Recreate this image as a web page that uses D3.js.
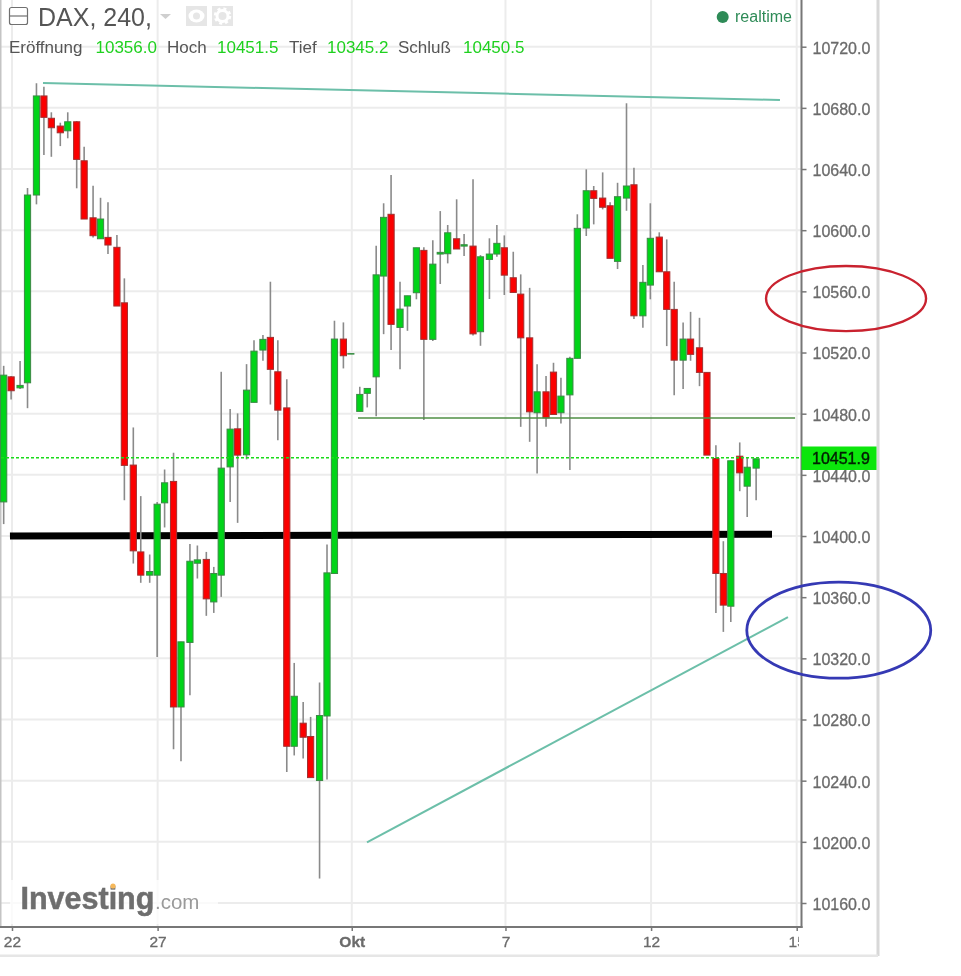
<!DOCTYPE html>
<html>
<head>
<meta charset="utf-8">
<script src="https://cdn.jsdelivr.net/npm/d3@7"></script>
<style>
html,body{margin:0;padding:0;background:#fff;}
svg{display:block;filter:blur(0.35px);}
text{font-family:"Liberation Sans",Arial,sans-serif;}
</style>
</head>
<body>
<svg id="chart" width="961" height="976"></svg>
<script>
const opens = [10422.3,10504.1,10496.9,10500.2,10623.0,10687.8,10673.2,10668.1,10665.0,10670.9,10645.4,10608.1,10594.4,10595.3,10588.8,10552.5,10446.4,10389.6,10374.4,10374.4,10421.7,10435.7,10288.2,10330.4,10382.2,10384.7,10356.9,10374.4,10445.2,10470.1,10453.1,10487.4,10521.6,10529.9,10507.4,10483.8,10262.5,10277.6,10268.9,10240.1,10282.3,10375.5,10528.8,10519.0,10481.5,10493.3,10504.1,10570.0,10610.4,10536.4,10550.4,10559.1,10586.8,10528.6,10584.4,10584.6,10594.4,10589.6,10589.6,10533.6,10580.9,10584.4,10588.5,10568.9,10558.2,10529.6,10480.6,10494.3,10507.2,10480.6,10492.3,10516.2,10601.4,10625.8,10621.0,10616.0,10579.6,10621.0,10629.7,10544.0,10564.1,10595.5,10572.8,10548.2,10515.0,10528.8,10523.1,10507.0,10450.7,10375.5,10354.1,10452.2,10432.6,10444.4];
const highs = [10511.3,10504.6,10514.4,10627.6,10696.1,10693.8,10677.1,10670.3,10677.1,10671.4,10654.6,10629.1,10621.2,10618.2,10596.8,10568.5,10471.0,10426.1,10387.9,10422.2,10443.5,10454.4,10330.8,10394.7,10393.8,10389.6,10379.8,10507.4,10483.0,10480.2,10512.4,10528.1,10531.4,10566.3,10528.1,10502.6,10317.0,10291.5,10281.7,10304.2,10394.5,10540.8,10539.7,10519.3,10497.6,10496.5,10589.8,10617.6,10636.1,10566.3,10557.1,10588.5,10588.8,10593.5,10612.5,10603.4,10620.2,10597.5,10633.3,10583.7,10594.7,10603.4,10596.6,10585.9,10571.1,10562.3,10512.4,10504.6,10513.3,10503.5,10517.2,10610.4,10639.8,10628.9,10637.8,10618.2,10631.0,10683.0,10640.8,10577.2,10617.6,10598.6,10594.0,10566.3,10539.7,10546.6,10542.7,10507.0,10459.4,10396.6,10449.6,10461.2,10451.6,10450.5];
const lows = [10407.8,10489.3,10496.1,10483.6,10616.9,10649.2,10648.0,10655.0,10660.1,10627.4,10607.3,10595.3,10594.4,10584.4,10550.4,10423.4,10382.0,10369.4,10369.4,10320.9,10405.6,10260.5,10252.7,10295.9,10372.2,10347.8,10349.7,10360.2,10422.3,10408.6,10450.1,10487.4,10514.6,10486.0,10462.7,10245.7,10256.5,10254.5,10242.0,10176.0,10240.7,10375.5,10509.6,10519.0,10481.5,10484.1,10478.4,10532.0,10521.6,10509.0,10534.2,10554.8,10475.8,10527.5,10564.8,10578.3,10587.7,10583.1,10531.2,10524.4,10555.0,10582.6,10557.6,10559.3,10471.4,10461.6,10440.9,10471.4,10479.5,10473.6,10443.1,10516.2,10596.2,10603.8,10613.6,10581.6,10574.6,10612.7,10541.9,10536.2,10554.8,10572.8,10524.2,10492.1,10496.1,10514.6,10498.0,10452.9,10349.7,10337.3,10343.8,10429.3,10412.5,10423.4];
const closes = [10505.2,10495.0,10498.5,10623.0,10687.8,10673.8,10667.0,10663.7,10670.9,10646.3,10607.3,10596.4,10607.3,10590.3,10550.4,10446.2,10390.3,10374.4,10376.8,10420.8,10434.8,10288.2,10330.8,10383.5,10384.4,10358.9,10375.5,10444.4,10469.9,10452.9,10495.4,10520.9,10528.6,10509.0,10482.3,10262.5,10295.2,10268.4,10242.0,10282.6,10375.9,10528.8,10517.9,10519.3,10492.6,10496.5,10570.8,10608.4,10538.4,10548.4,10557.1,10588.5,10528.6,10577.8,10585.5,10598.3,10587.7,10590.5,10532.2,10582.6,10584.4,10591.4,10570.6,10559.3,10529.6,10481.2,10494.3,10477.3,10479.5,10491.5,10516.2,10601.2,10625.8,10620.8,10615.0,10581.6,10621.9,10628.9,10544.0,10565.9,10594.7,10572.8,10548.2,10515.0,10528.8,10518.8,10507.0,10452.9,10375.5,10354.8,10449.2,10441.3,10445.0,10450.5];

const priceTicks = [10720,10680,10640,10600,10560,10520,10480,10440,10400,10360,10320,10280,10240,10200,10160];
const timeTickIndex = [1,19,43,62,80,98];
const timeTickLabels = ["22","27","Okt","7","12","15"];

const title = "DAX, 240,";
const ohlcLabels = ["Eröffnung","Hoch","Tief","Schluß"];
const ohlcValues = ["10356.0","10451.5","10345.2","10450.5"];
const currentLabel = "10451.9";
const currentLevel = 10451.2;

const tealLines = [[[4.83,10696.3],[95.93,10685.1]],[[44.88,10199.7],[96.92,10346.9]]];
const supportLine = [[43.77,10477.1],[97.8,10477.1]];
const blackLine = [[0.75,10400.0],[94.95,10401.2]];
const redEllipse = {i:104.1,p:10555.3,ri:9.89,rp:21.3};
const blueEllipse = {i:103.2,p:10338.4,ri:11.37,rp:31.4};

const x = d3.scaleLinear().domain([0,98]).range([3.9,796.7]);
const y = d3.scaleLinear().domain([10720,10160]).range([46.7,903]);
const snap = v => 0.7 + 1.49*Math.floor((v-0.4)/1.49);

const plotR = 801.5, plotB = 927, bandX = 878, bandB = 956;
const svg = d3.select("#chart");

svg.append("defs").append("clipPath").attr("id","xclip")
  .append("rect").attr("x",0).attr("y",0).attr("width",799).attr("height",976);

const gridC = "#ececec";
const grid = svg.append("g");
grid.selectAll("line.h").data(priceTicks).join("line").attr("class","h")
  .attr("x1",1).attr("x2",plotR).attr("y1",d=>y(d)).attr("y2",d=>y(d))
  .attr("stroke",gridC).attr("stroke-width",2);
grid.selectAll("line.v").data(timeTickIndex).join("line").attr("class","v")
  .attr("x1",d=>x(d)).attr("x2",d=>x(d)).attr("y1",0).attr("y2",plotB)
  .attr("stroke",gridC).attr("stroke-width",2);

// frame
svg.append("rect").attr("x",0).attr("y",0).attr("width",1.5).attr("height",plotB).attr("fill","#c4c4c4");
svg.append("rect").attr("x",bandX-1.5).attr("y",0).attr("width",3).attr("height",bandB).attr("fill","#d8d8d8");
svg.append("rect").attr("x",0).attr("y",bandB-1.5).attr("width",bandX).attr("height",2.5).attr("fill","#e6e6e6");

// logo
const logo = svg.append("g");
logo.append("rect").attr("x",10).attr("y",880).attr("width",208).attr("height",44).attr("fill","#fff").attr("opacity",0.75);
logo.append("text").attr("x",20.5).attr("y",909).attr("font-size",30.5).attr("font-weight",700)
  .attr("fill","#6e6e6e").attr("stroke","#6e6e6e").attr("stroke-width",0.5).text("Investing");
logo.append("text").attr("x",155).attr("y",909).attr("font-size",20.5)
  .attr("fill","#9a9a9a").text(".com");
logo.append("circle").attr("cx",113).attr("cy",886).attr("r",2.6).attr("fill","#f6b85a");

const line = d3.line().x(d=>x(d[0])).y(d=>y(d[1]));

svg.append("path").attr("d",line(blackLine)).attr("fill","none").attr("stroke","#000").attr("stroke-width",7);

// candles
const candles = opens.map((o,i)=>({i,o,h:highs[i],l:lows[i],c:closes[i]}));
const cg = svg.append("g");
const green = "#00d418", red = "#fb0000";
cg.selectAll("line.w").data(candles).join("line").attr("class","w")
  .attr("x1",d=>snap(x(d.i))).attr("x2",d=>snap(x(d.i)))
  .attr("y1",d=>y(d.h)).attr("y2",d=>y(d.l))
  .attr("stroke","#8a8a8a").attr("stroke-width",1.6);
cg.selectAll("rect.b").data(candles).join("rect").attr("class","b")
  .attr("x",d=>snap(x(d.i))-3.1)
  .attr("width",6.2)
  .attr("y",d=>y(Math.max(d.o,d.c)))
  .attr("height",d=>Math.max(0.5,Math.abs(y(d.o)-y(d.c))))
  .attr("fill",d=>d.c>=d.o?green:red)
  .attr("stroke",d=>d.c>=d.o?"#3a8a45":"#a03030")
  .attr("stroke-width",1);

// drawn lines
svg.append("path").attr("d",line(supportLine)).attr("fill","none").attr("stroke","#4f8f45").attr("stroke-width",1.5);
svg.selectAll("path.teal").data(tealLines).join("path").attr("class","teal")
  .attr("d",line).attr("fill","none").attr("stroke","#6cbfa9").attr("stroke-width",2);
svg.append("line").attr("x1",1).attr("x2",plotR).attr("y1",y(currentLevel)).attr("y2",y(currentLevel))
  .attr("stroke","#18dc18").attr("stroke-width",1.6).attr("stroke-dasharray","3 2");

// axes
const yAxis = svg.append("g").attr("transform",`translate(${plotR},0)`)
  .call(d3.axisRight(y).tickValues(priceTicks).tickFormat(d3.format(".1f")).tickSizeOuter(0).tickSize(5).tickPadding(6));
yAxis.select(".domain").remove();
yAxis.selectAll("line").attr("stroke","#777").attr("stroke-width",1.5);
yAxis.selectAll("text").attr("font-size",16).attr("font-family",'"Liberation Sans",Arial,sans-serif')
  .attr("fill","#6b6b6b").attr("stroke","#6b6b6b").attr("stroke-width",0.3).attr("dy","0.4em");

const xAxis = svg.append("g").attr("transform",`translate(0,${plotB})`).attr("clip-path","url(#xclip)")
  .call(d3.axisBottom(x).tickValues(timeTickIndex).tickFormat((d,i)=>timeTickLabels[i]).tickSizeOuter(0).tickSize(4).tickPadding(5));
xAxis.select(".domain").remove();
xAxis.selectAll("line").attr("stroke","#777").attr("stroke-width",1.5);
xAxis.selectAll("text").attr("font-size",15.5).attr("font-family",'"Liberation Sans",Arial,sans-serif')
  .attr("fill","#6b6b6b").attr("stroke","#6b6b6b").attr("stroke-width",0.3)
  .attr("font-weight",(d,i)=>timeTickLabels[i]==="Okt"?700:400);

svg.append("rect").attr("x",plotR-1).attr("y",0).attr("width",2).attr("height",plotB+1).attr("fill","#777");
svg.append("rect").attr("x",0).attr("y",plotB-1).attr("width",plotR+1).attr("height",2).attr("fill","#777");

// current price flag
svg.append("rect").attr("x",plotR).attr("y",446.5).attr("width",bandX-plotR-1.5).attr("height",23.5).attr("fill","#0ce60c");
svg.append("text").attr("x",812).attr("y",464).attr("font-size",16).attr("fill","#031f03")
  .attr("stroke","#031f03").attr("stroke-width",0.4).text(currentLabel);

// header
const hdr = svg.append("g");
hdr.append("rect").attr("x",9.5).attr("y",7.5).attr("width",18).attr("height",17).attr("rx",2)
  .attr("fill","#fff").attr("stroke","#707070").attr("stroke-width",1.2);
hdr.append("line").attr("x1",9.5).attr("x2",27.5).attr("y1",16).attr("y2",16).attr("stroke","#707070").attr("stroke-width",1.2);
hdr.append("text").attr("x",38).attr("y",26).attr("font-size",25).attr("fill","#555").text(title);
hdr.append("path").attr("d",d3.line()([[160,14],[171,14],[165.5,19]])+"Z").attr("fill","#cfcfcf");
hdr.append("rect").attr("x",186).attr("y",6).attr("width",21).attr("height",20).attr("fill","#e6e6e6");
hdr.append("ellipse").attr("cx",196.5).attr("cy",16).attr("rx",8).attr("ry",6.5).attr("fill","#fff");
hdr.append("circle").attr("cx",196.5).attr("cy",16).attr("r",3.5).attr("fill","#e6e6e6");
hdr.append("rect").attr("x",212).attr("y",6).attr("width",21).attr("height",20).attr("fill","#e6e6e6");
hdr.append("circle").attr("cx",222.5).attr("cy",16).attr("r",5.5).attr("fill","none").attr("stroke","#fff").attr("stroke-width",3);
hdr.append("circle").attr("cx",222.5).attr("cy",16).attr("r",7.5).attr("fill","none").attr("stroke","#fff").attr("stroke-width",2.5).attr("stroke-dasharray","3 3");

const labelX = [9,167,289,398], valueX = [95.5,217,327,463];
hdr.selectAll("text.lab").data(ohlcLabels).join("text").attr("class","lab")
  .attr("x",(d,i)=>labelX[i]).attr("y",53).attr("font-size",17).attr("fill","#555").text(d=>d);
hdr.selectAll("text.val").data(ohlcValues).join("text").attr("class","val")
  .attr("x",(d,i)=>valueX[i]).attr("y",53).attr("font-size",17).attr("fill","#1fd11f").text(d=>d);

hdr.append("circle").attr("cx",722.7).attr("cy",17).attr("r",6).attr("fill","#2e8b57");
hdr.append("text").attr("x",735).attr("y",22).attr("font-size",16).attr("fill","#2e8b57").text("realtime");

// annotation ellipses
const ell = (e,col,w)=>svg.append("ellipse")
  .attr("cx",x(e.i)).attr("cy",y(e.p))
  .attr("rx",x(e.i+e.ri)-x(e.i)).attr("ry",y(e.p-e.rp)-y(e.p))
  .attr("fill","none").attr("stroke",col).attr("stroke-width",w);
ell(redEllipse,"#c9222f",2.4);
ell(blueEllipse,"#3539b4",2.8);
</script>
</body>
</html>
